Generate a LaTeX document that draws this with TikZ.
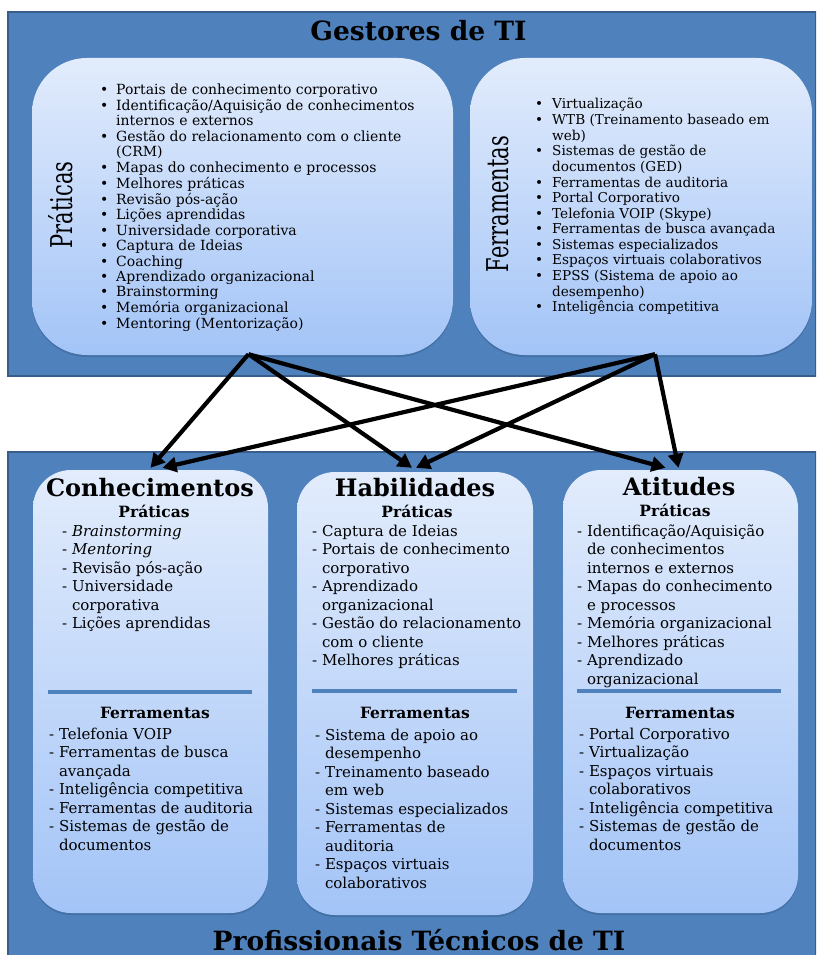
\documentclass[tikz,border=0pt]{standalone}
\usepackage{fontspec}
\usepackage{graphicx}
\setmainfont{DejaVu Serif}
\usetikzlibrary{arrows.meta,shadows,calc}

\definecolor{panelblue}{RGB}{79,129,189}
\definecolor{panelline}{RGB}{56,93,138}
\definecolor{cardtop}{RGB}{226,236,252}
\definecolor{cardbot}{RGB}{163,196,247}

% type sizes (1 unit = 1pt)
\newcommand\bigtitle{\fontsize{26.5}{26.5}\selectfont\bfseries}
\newcommand\cardtitle{\fontsize{24}{24}\selectfont\bfseries}
\newcommand\subhead{\fontsize{15.5}{15.5}\selectfont\bfseries}
\newcommand\pratfont{\fontsize{14}{15.47}\selectfont}
\newcommand\ferrfont{\fontsize{13.6}{15.6}\selectfont}
\newcommand\cardlist{\fontsize{15}{18.5}\selectfont}
\newcommand\sidelabel[1]{\scalebox{0.7}[1]{\fontsize{30}{30}\selectfont #1}}
\newcommand\cont{\phantom{- }}

\tikzset{
  panel/.style={fill=panelblue, draw=panelline, line width=2pt},
  card/.style={rounded corners=#1, top color=cardtop, bottom color=cardbot,
    draw=none, inner sep=0pt,
    drop shadow={shadow xshift=0pt, shadow yshift=-2pt, opacity=0.45, fill=panelline}},
  txt/.style={inner sep=0pt, anchor=base},
  listtxt/.style={inner sep=0pt, anchor=base west, align=left},
  sepline/.style={draw=panelblue, line width=4pt},
  flow/.style={draw=black, line width=4.2pt, -{Triangle[length=14pt,width=15pt]}},
}

\begin{document}
\begin{tikzpicture}[x=1pt,y=-1pt]
\useasboundingbox (0,0) rectangle (816,955);
\fill[white] (0,0) rectangle (816,955);
\clip (0,0) rectangle (816,955);

% upper panel: managers
\draw[panel] (8,12) rectangle (816,376);
\node[txt, font=\bigtitle] (gestores) at (418.5,41) {Gestores de TI};

\node[card=55pt, minimum width=421pt, minimum height=297pt] (prat) at (242.5,206.5) {};
\node[card=55pt, minimum width=342pt, minimum height=297pt] (ferr) at (641,206.5) {};

\node[rotate=90] (pratlabel) at (61,205) {\sidelabel{Práticas}};
\node[rotate=90] (ferrlabel) at (498,204) {\sidelabel{Ferramentas}};

\node[listtxt] (pratlist) at (100,95) {\pratfont
\begin{tabular}[t]{@{}p{16pt}@{}l@{}}
\textbullet & Portais de conhecimento corporativo\\
\textbullet & Identificação/Aquisição de conhecimentos\\
 & internos e externos\\
\textbullet & Gestão do relacionamento com o cliente\\
 & (CRM)\\
\textbullet & Mapas do conhecimento e processos\\
\textbullet & Melhores práticas\\
\textbullet & Revisão pós-ação\\
\textbullet & Lições aprendidas\\
\textbullet & Universidade corporativa\\
\textbullet & Captura de Ideias\\
\textbullet & Coaching\\
\textbullet & Aprendizado organizacional\\
\textbullet & Brainstorming\\
\textbullet & Memória organizacional\\
\textbullet & Mentoring (Mentorização)
\end{tabular}};

\node[listtxt] (ferrlist) at (535,109) {\ferrfont
\begin{tabular}[t]{@{}p{17pt}@{}l@{}}
\textbullet & Virtualização\\
\textbullet & WTB (Treinamento baseado em\\
 & web)\\
\textbullet & Sistemas de gestão de\\
 & documentos (GED)\\
\textbullet & Ferramentas de auditoria\\
\textbullet & Portal Corporativo\\
\textbullet & Telefonia VOIP (Skype)\\
\textbullet & Ferramentas de busca avançada\\
\textbullet & Sistemas especializados\\
\textbullet & Espaços virtuais colaborativos\\
\textbullet & EPSS (Sistema de apoio ao\\
 & desempenho)\\
\textbullet & Inteligência competitiva
\end{tabular}};

% lower panel: technical staff
\draw[panel] (8,452) rectangle (816,960);
\node[txt, font=\bigtitle] (profissionais) at (419,950) {Profissionais Técnicos de TI};

\node[card=38pt, minimum width=235pt, minimum height=443pt] (con) at (150.5,691.5) {};
\node[card=38pt, minimum width=236pt, minimum height=443pt] (hab) at (415,693.5) {};
\node[card=38pt, minimum width=235pt, minimum height=443pt] (ati) at (680.5,691.5) {};

% Conhecimentos
\node[txt, font=\cardtitle] (contitle) at (150,496) {Conhecimentos};
\node[txt, font=\subhead] (conprat) at (154,517) {Práticas};
\node[listtxt] (conpratlist) at (62,536) {\cardlist
\begin{tabular}[t]{@{}l@{}}
- \textit{Brainstorming}\\
- \textit{Mentoring}\\
- Revisão pós-ação\\
- Universidade\\
\cont corporativa\\
- Lições aprendidas
\end{tabular}};
\draw[sepline] (48,692) -- (252,692);
\node[txt, font=\subhead] (conferr) at (155,718) {Ferramentas};
\node[listtxt] (conferrlist) at (49,739) {\cardlist
\begin{tabular}[t]{@{}l@{}}
- Telefonia VOIP\\
- Ferramentas de busca\\
\cont avançada\\
- Inteligência competitiva\\
- Ferramentas de auditoria\\
- Sistemas de gestão de\\
\cont documentos
\end{tabular}};

% Habilidades
\node[txt, font=\cardtitle] (habtitle) at (415,496) {Habilidades};
\node[txt, font=\subhead] (habprat) at (417,517) {Práticas};
\node[listtxt] (habpratlist) at (312,536) {\cardlist
\begin{tabular}[t]{@{}l@{}}
- Captura de Ideias\\
- Portais de conhecimento\\
\cont corporativo\\
- Aprendizado\\
\cont organizacional\\
- Gestão do relacionamento\\
\cont com o cliente\\
- Melhores práticas
\end{tabular}};
\draw[sepline] (312,691) -- (517,691);
\node[txt, font=\subhead] (haberr) at (415,718) {Ferramentas};
\node[listtxt] (haberrlist) at (315,740) {\cardlist
\begin{tabular}[t]{@{}l@{}}
- Sistema de apoio ao\\
\cont desempenho\\
- Treinamento baseado\\
\cont em web\\
- Sistemas especializados\\
- Ferramentas de\\
\cont auditoria\\
- Espaços virtuais\\
\cont colaborativos
\end{tabular}};

% Atitudes
\node[txt, font=\cardtitle] (atititle) at (679,495) {Atitudes};
\node[txt, font=\subhead] (atiprat) at (675,516) {Práticas};
\node[listtxt] (atipratlist) at (577,536) {\cardlist
\begin{tabular}[t]{@{}l@{}}
- Identificação/Aquisição\\
\cont de conhecimentos\\
\cont internos e externos\\
- Mapas do conhecimento\\
\cont e processos\\
- Memória organizacional\\
- Melhores práticas\\
- Aprendizado\\
\cont organizacional
\end{tabular}};
\draw[sepline] (577,691) -- (781,691);
\node[txt, font=\subhead] (atiferr) at (680,718) {Ferramentas};
\node[listtxt] (atiferrlist) at (579,739) {\cardlist
\begin{tabular}[t]{@{}l@{}}
- Portal Corporativo\\
- Virtualização\\
- Espaços virtuais\\
\cont colaborativos\\
- Inteligência competitiva\\
- Sistemas de gestão de\\
\cont documentos
\end{tabular}};

% connectors from the two upper cards to the three lower cards
\coordinate (s1) at ($(prat.south)+(6,-1)$);
\coordinate (s2) at ($(ferr.south)+(14,-1)$);
\draw[flow] (s1) -- ($(con.north)+(0,-2)$);
\draw[flow] (s1) -- ($(hab.north)+(-3,-4)$);
\draw[flow] (s1) -- ($(ati.north)+(-15,-2)$);
\draw[flow] (s2) -- ($(con.north)+(12,-2)$);
\draw[flow] (s2) -- ($(hab.north)+(1,-4)$);
\draw[flow] (s2) -- ($(ati.north)+(-2,-2)$);
\end{tikzpicture}
\end{document}
